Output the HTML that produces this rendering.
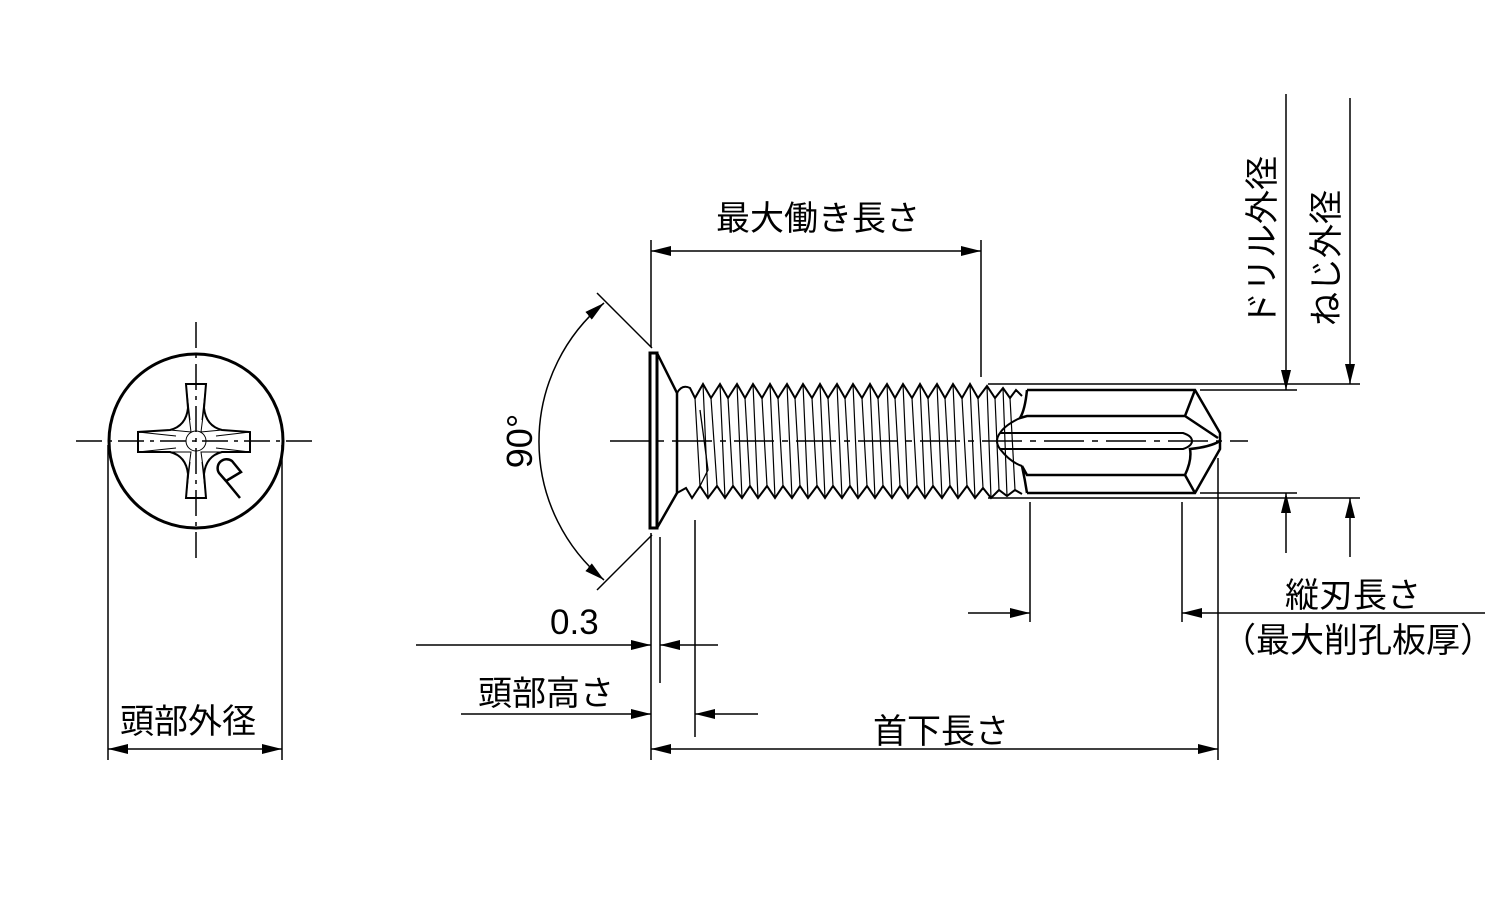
<!DOCTYPE html>
<html><head><meta charset="utf-8"><style>
html,body{margin:0;padding:0;background:#fff;}
svg{display:block;}
text{font-family:"Liberation Sans","Noto Sans CJK JP",sans-serif;fill:#000;}
</style></head><body>
<svg width="1500" height="900" viewBox="0 0 1500 900" xmlns="http://www.w3.org/2000/svg">
<defs>
<marker id="a" viewBox="0 0 20 10" refX="20" refY="5" markerWidth="20" markerHeight="10" markerUnits="userSpaceOnUse" orient="auto-start-reverse"><path d="M0,0L20,5L0,10z" fill="#000"/></marker>
</defs>
<g stroke="#000" fill="none">
<circle cx="196" cy="441" r="87" stroke-width="3"/>
<g stroke-width="1.5" stroke-dasharray="26,6,4,6">
<line x1="76" y1="441" x2="316" y2="441"/>
<line x1="196" y1="322" x2="196" y2="560"/>
</g>
<g stroke-width="2">
<path d="M186,384 H206 L204,408 Q206,426 222,430 L250,432 V452 L222,452 Q206,456 204,474 L206,498 H186 L188,474 Q186,456 170,452 L138,452 V432 L170,430 Q186,426 188,408 Z"/>
<path d="M188,408 L191,432 L170,430 M204,408 L201,432 L222,430 M188,474 L191,452 L170,452 M204,474 L201,452 L222,452" stroke-width="1"/>
<path d="M186,384 L190,420 M206,384 L202,420 M186,498 L190,462 M206,498 L202,462 M138,432 L176,436 M138,452 L176,448 M250,432 L216,436 M250,452 L216,448" stroke-width="1"/>
<circle cx="196" cy="441" r="10" stroke-width="1"/>
</g>
<path d="M240,498 L226,481 M226,481 L219,473 A9,9 0 0 1 232,461 L241,472 L226,481" stroke-width="2.5"/>
<line x1="108" y1="445" x2="108" y2="760" stroke-width="1.5"/>
<line x1="282" y1="445" x2="282" y2="760" stroke-width="1.5"/>
<line x1="108" y1="749" x2="282" y2="749" stroke-width="1.5" marker-start="url(#a)" marker-end="url(#a)"/>

<line x1="610" y1="441" x2="1248" y2="441" stroke-width="1.5" stroke-dasharray="40,8,6,8"/>
<rect x="650" y="353" width="7" height="175" stroke-width="3"/>
<path d="M657,353 L677,393 V493 L657,528" stroke-width="2.5"/>
<g stroke-width="2">
<path d="M677,393 Q682,384 690,388 L695,398 L703,384 L711,398 L720,384 L728,398 L737,384 L745,398 L753,384 L762,398 L770,384 L778,398 L787,384 L795,398 L803,384 L812,398 L820,384 L828,398 L837,384 L845,398 L853,384 L862,398 L870,384 L878,398 L887,384 L895,398 L903,384 L912,398 L920,384 L928,398 L937,384 L945,398 L953,384 L962,398 L970,384 L978,398 L987,386 L995,398 L1003,388 L1010,398 L1016,390 L1022,396"/>
<path d="M677,493 L686,488 L692,498 L700,486 L708,498 L717,486 L725,498 L733,486 L742,498 L750,486 L758,498 L767,486 L775,498 L783,486 L792,498 L800,486 L808,498 L817,486 L825,498 L833,486 L842,498 L850,486 L858,498 L867,486 L875,498 L883,486 L892,498 L900,486 L908,498 L917,486 L925,498 L933,486 L942,498 L950,486 L958,498 L967,486 L975,498 L983,488 L991,498 L999,490 L1007,496 L1015,490 L1022,494"/>
<path stroke-width="1.2" d="M695,398 L700,486 M711,398 L717,486 M728,398 L733,486 M745,398 L750,486 M762,398 L767,486 M778,398 L783,486 M795,398 L800,486 M812,398 L817,486 M828,398 L833,486 M845,398 L850,486 M862,398 L867,486 M878,398 L883,486 M895,398 L900,486 M912,398 L917,486 M928,398 L933,486 M945,398 L950,486 M962,398 L967,486 M978,398 L983,488 M995,398 L999,490 M1010,398 L1015,490
M703,384 L708,498 M720,384 L725,498 M737,384 L742,498 M753,384 L758,498 M770,384 L775,498 M787,384 L792,498 M803,384 L808,498 M820,384 L825,498 M837,384 L842,498 M853,384 L858,498 M870,384 L875,498 M887,384 L892,498 M903,384 L908,498 M920,384 L925,498 M937,384 L942,498 M953,384 L958,498 M970,384 L975,498 M987,386 L991,498 M1003,388 L1007,496"/>
<path d="M703,432 L708,470 L700,486 M703,432 L700,410" stroke-width="1.3"/>
</g>
<g stroke-width="2.5">
<path d="M1027,390 H1195 L1220,433 V449 L1195,493 H1027"/>
<path d="M1027,390 Q1025,410 1020,418 L1027,416 H1185 L1195,390 M1185,416 L1218,438"/>
<path d="M1027,493 Q1025,480 1022,466 L1027,475 H1185 L1195,493 M1185,475 Q1192,460 1190,449 Q1210,447 1220,441"/>
<path d="M1000,433 H1183 Q1192,436 1192,441 Q1192,446 1183,449 H1000 Q994,441 1000,433" stroke-width="2"/>
<path d="M1020,418 Q1005,425 1000,433 M1000,449 Q1010,462 1022,466" stroke-width="2"/>
</g>
</g>
<g stroke="#000" fill="none" stroke-width="1.5">
<line x1="651" y1="240" x2="651" y2="347"/>
<line x1="981" y1="240" x2="981" y2="377"/>
<line x1="651" y1="251" x2="981" y2="251" marker-start="url(#a)" marker-end="url(#a)"/>
<line x1="597" y1="293" x2="652" y2="348"/>
<line x1="597" y1="590" x2="652" y2="535"/>
<path d="M604,303 A180,180 0 0 0 604,580" marker-start="url(#a)" marker-end="url(#a)"/>
<line x1="651" y1="533" x2="651" y2="760"/>
<line x1="660" y1="537" x2="660" y2="683"/>
<line x1="695" y1="520" x2="695" y2="737"/>
<line x1="416" y1="645" x2="651" y2="645" marker-end="url(#a)"/>
<line x1="718" y1="645" x2="660" y2="645" marker-end="url(#a)"/>
<line x1="461" y1="714" x2="651" y2="714" marker-end="url(#a)"/>
<line x1="758" y1="714" x2="695" y2="714" marker-end="url(#a)"/>
<line x1="651" y1="749" x2="1218" y2="749" marker-start="url(#a)" marker-end="url(#a)"/>
<line x1="1218" y1="458" x2="1218" y2="760"/>
<line x1="1030" y1="502" x2="1030" y2="622"/>
<line x1="1182" y1="502" x2="1182" y2="622"/>
<line x1="968" y1="613" x2="1030" y2="613" marker-end="url(#a)"/>
<line x1="1485" y1="613" x2="1182" y2="613" marker-end="url(#a)"/>
<line x1="988" y1="384" x2="1360" y2="384"/>
<line x1="1200" y1="390" x2="1297" y2="390"/>
<line x1="1200" y1="493" x2="1297" y2="493"/>
<line x1="988" y1="498" x2="1360" y2="498"/>
<line x1="1286" y1="94" x2="1286" y2="390" marker-end="url(#a)"/>
<line x1="1286" y1="553" x2="1286" y2="493" marker-end="url(#a)"/>
<line x1="1350" y1="98" x2="1350" y2="384" marker-end="url(#a)"/>
<line x1="1350" y1="557" x2="1350" y2="498" marker-end="url(#a)"/>
</g>
<g font-size="34">
<text x="716" y="230">最大働き長さ</text>
<text x="550" y="634" font-size="35">0.3</text>
<text x="478" y="705">頭部高さ</text>
<text x="120" y="733">頭部外径</text>
<text x="873" y="743">首下長さ</text>
<text x="1285" y="607">縦刃長さ</text>
<text x="1222" y="652">（最大削孔板厚）</text>
<text transform="translate(532,441) rotate(-90)" text-anchor="middle" font-size="36">90°</text>
<text transform="translate(1274,326) rotate(-90)">ドリル外径</text>
<text transform="translate(1338,326) rotate(-90)">ねじ外径</text>
</g>
</svg>
</body></html>
